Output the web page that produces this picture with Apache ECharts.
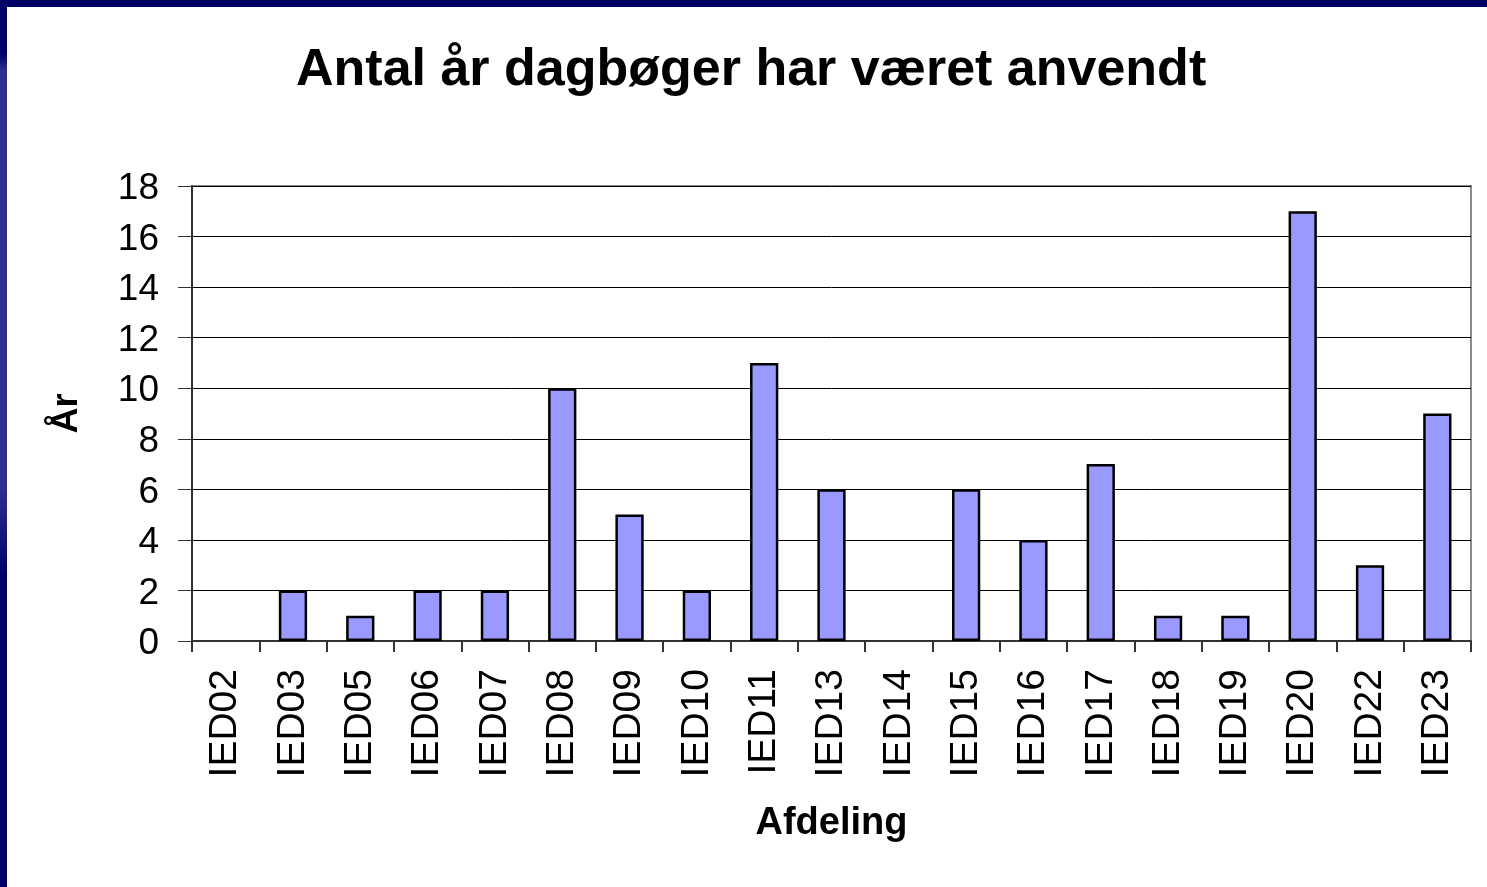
<!DOCTYPE html>
<html>
<head>
<meta charset="utf-8">
<script src="https://cdn.jsdelivr.net/npm/echarts@6/dist/echarts.min.js"></script>
<style>
html,body{margin:0;padding:0;background:#fff;}
#c{width:1487px;height:887px;}
</style>
</head>
<body>
<div id="c"></div>
<script>
var titleText = 'Antal år dagbøger har været anvendt';
var categories = ['IED02','IED03','IED05','IED06','IED07','IED08','IED09','IED10','IED11','IED13','IED14','IED15','IED16','IED17','IED18','IED19','IED20','IED22','IED23'];
var years = [0,2,1,2,2,10,5,2,11,6,0,6,4,7,1,1,17,3,9];
var xName = 'Afdeling';
var yName = 'År';

var chart = echarts.init(document.getElementById('c'), null, {renderer:'canvas'});
var FONT = '"Liberation Sans", Arial, sans-serif';
chart.setOption({
  backgroundColor:'#ffffff',
  animation:false,
  title:{
    text:titleText,
    left:291,
    top:40,
    textStyle:{fontFamily:FONT,fontWeight:'bold',fontSize:52,color:'#000'}
  },
  graphic:[
    {type:'rect',left:0,top:0,shape:{width:1487,height:7},style:{fill:'#000066'},z:100},
    {type:'rect',left:0,top:0,shape:{width:7,height:887},style:{fill:new echarts.graphic.LinearGradient(0,0,0,1,[
      {offset:0,color:'#000066'},{offset:0.06,color:'#000066'},{offset:0.08,color:'#2e2e8e'},
      {offset:0.55,color:'#2e2e8e'},{offset:0.65,color:'#000066'},{offset:1,color:'#000066'}])},z:100}
  ],
  grid:{
    left:192,top:186,width:1279,height:455,containLabel:false,
    show:true,borderColor:'#8c8c8c',borderWidth:2,backgroundColor:'transparent'
  },
  xAxis:{
    type:'category',
    data:categories,
    name:xName,
    nameLocation:'middle',
    nameGap:164,
    nameTextStyle:{fontFamily:FONT,fontWeight:'bold',fontSize:38,color:'#000'},
    axisLine:{show:true,lineStyle:{color:'#333',width:2}},
    axisTick:{show:true,length:11,lineStyle:{color:'#333',width:2}},
    axisLabel:{rotate:90,margin:28,fontFamily:FONT,fontSize:39,color:'#000',interval:0}
  },
  yAxis:{
    type:'value',
    min:0,max:18,interval:2,
    name:yName,
    nameLocation:'middle',
    nameGap:107,
    nameTextStyle:{fontFamily:FONT,fontWeight:'bold',fontSize:36,color:'#000'},
    axisLine:{show:true,lineStyle:{color:'#333',width:2}},
    axisTick:{show:true,inside:false,length:14,lineStyle:{color:'#333',width:1}},
    axisLabel:{
      margin:33,fontFamily:FONT,fontSize:37,color:'#000',
      formatter:'{v|{value}}',
      rich:{v:{fontFamily:FONT,fontSize:37,color:'#000',padding:[6,0,0,0]}}
    },
    splitLine:{show:true,lineStyle:{color:'#000',width:1}}
  },
  series:[{
    type:'bar',
    data:years.map(function(v){return v===0?{value:v,itemStyle:{borderWidth:0}}:v;}),
    barWidth:'42%',
    itemStyle:{color:'#9999ff',borderColor:'#000',borderWidth:2.5}
  }]
});
</script>
</body>
</html>
